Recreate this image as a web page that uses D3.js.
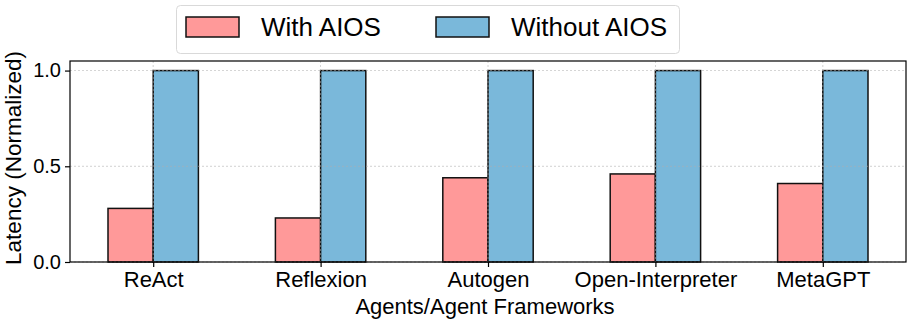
<title>Latency chart</title>
<script src="https://cdn.jsdelivr.net/npm/d3@7"></script>
<style>
  body { margin: 0; background: #fff; font-family: "Liberation Sans", Arial, sans-serif; }
</style>
<body>
  <div id="plot"></div>
</body>
<script>
  var categories = ["ReAct", "Reflexion", "Autogen", "Open-Interpreter", "MetaGPT"];
  var withAIOS = [0.28, 0.23, 0.44, 0.46, 0.41];
  var withoutAIOS = [1.0, 1.0, 1.0, 1.0, 1.0];
  var seriesNames = ["With AIOS", "Without AIOS"];
  var yTicks = [0.0, 0.5, 1.0];

  var colors = ["#ff9999", "#7ab8da"];
  var width = 913, height = 322;
  var plotL = 70, plotR = 906, plotT = 61, plotB = 262;
  var barW = 0.27;

  var svg = d3.select("#plot").append("svg")
      .attr("width", width)
      .attr("height", height);

  var x = d3.scaleLinear().domain([-0.497, 4.497]).range([plotL, plotR]);
  var y = d3.scaleLinear().domain([0, 1.05]).range([plotB, plotT]);

  // bars
  var series = [withAIOS, withoutAIOS];
  series.forEach(function (vals, s) {
    svg.append("g").selectAll("rect")
      .data(vals)
      .enter()
      .append("rect")
      .attr("x", function (d, i) { return x(i + (s === 0 ? -barW : 0)); })
      .attr("width", x(barW) - x(0))
      .attr("y", function (d) { return y(d); })
      .attr("height", function (d) { return y(0) - y(d); })
      .attr("fill", colors[s])
      .attr("stroke", "#111")
      .attr("stroke-width", 1.5);
  });

  // grid on top
  var grid = svg.append("g");
  yTicks.forEach(function (t) {
    grid.append("line")
      .attr("x1", plotL).attr("x2", plotR)
      .attr("y1", y(t)).attr("y2", y(t))
      .attr("stroke", "#b0b0b0").attr("stroke-width", 0.8)
      .attr("stroke-dasharray", "2,2").attr("opacity", 0.7);
  });
  categories.forEach(function (c, i) {
    grid.append("line")
      .attr("x1", x(i)).attr("x2", x(i))
      .attr("y1", plotT).attr("y2", plotB)
      .attr("stroke", "#b0b0b0").attr("stroke-width", 0.8)
      .attr("stroke-dasharray", "2,2").attr("opacity", 0.7);
  });

  // axes
  var xAxis = svg.append("g")
    .attr("transform", "translate(0," + plotB + ")")
    .call(d3.axisBottom(x).tickValues(d3.range(categories.length))
      .tickFormat(function (d) { return categories[d]; })
      .tickSize(5).tickPadding(4));
  xAxis.select(".domain").remove();
  xAxis.attr("font-size", 22).attr("font-family", "Liberation Sans, Arial, sans-serif");
  xAxis.selectAll("text").attr("fill", "#000");
  xAxis.selectAll("line").attr("stroke", "#000").attr("stroke-width", 1.2);

  var yAxis = svg.append("g")
    .attr("transform", "translate(" + plotL + ",0)")
    .call(d3.axisLeft(y).tickValues(yTicks).tickFormat(d3.format(".1f"))
      .tickSize(5).tickPadding(4));
  yAxis.select(".domain").remove();
  yAxis.attr("font-size", 20).attr("font-family", "Liberation Sans, Arial, sans-serif");
  yAxis.selectAll("text").attr("fill", "#000");
  yAxis.selectAll("line").attr("stroke", "#000").attr("stroke-width", 1.2);

  // frame
  svg.append("rect")
    .attr("x", plotL).attr("y", plotT)
    .attr("width", plotR - plotL).attr("height", plotB - plotT)
    .attr("fill", "none").attr("stroke", "#000").attr("stroke-width", 1.2);

  // axis labels
  svg.append("text")
    .attr("x", 485).attr("y", 314)
    .attr("text-anchor", "middle").attr("font-size", 22)
    .text("Agents/Agent Frameworks");
  svg.append("text")
    .attr("transform", "translate(21,158) rotate(-90)")
    .attr("text-anchor", "middle").attr("font-size", 22.5)
    .text("Latency (Normalized)");

  // legend
  var lg = svg.append("g");
  lg.append("rect")
    .attr("x", 176.5).attr("y", 5.5).attr("width", 503).attr("height", 48)
    .attr("rx", 4).attr("fill", "#fff").attr("stroke", "#d9d9d9").attr("stroke-width", 1);
  var legendX = [186, 436];
  seriesNames.forEach(function (n, i) {
    lg.append("rect")
      .attr("x", legendX[i]).attr("y", 17)
      .attr("width", 53).attr("height", 20)
      .attr("fill", colors[i]).attr("stroke", "#111").attr("stroke-width", 1.5);
    lg.append("text")
      .attr("x", legendX[i] + 75).attr("y", 36)
      .attr("font-size", 26)
      .text(n);
  });
</script>
